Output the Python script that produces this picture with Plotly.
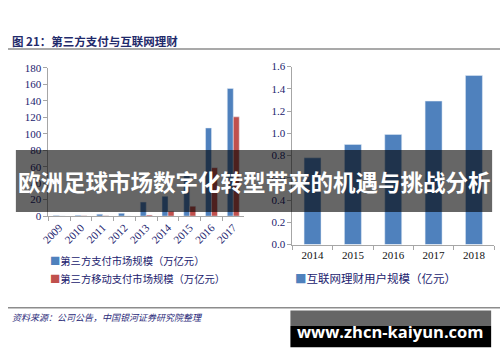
import plotly.graph_objects as go

# ---- data ----
years_left = ['2009', '2010', '2011', '2012', '2013', '2014', '2015', '2016', '2017']
pay_scale = [0.8, 0.9, 2.3, 3.5, 17.0, 24.0, 49.5, 107.0, 155.0]
mobile_scale = [0.2, 0.3, 0.3, 0.2, 1.2, 6.0, 12.0, 58.8, 120.5]
years_right = ['2014', '2015', '2016', '2017', '2018']
user_scale = [0.78, 0.90, 0.99, 1.29, 1.52]

W, H = 500, 362
def px(x): return x / W
def py(y): return 1 - y / H

BLUE = '#4F81BD'
RED = '#C0504D'
NAVY = '#22226E'
serif = 'Liberation Serif'
cjk = 'Noto Sans CJK SC'

fig = go.Figure()
fig.add_trace(go.Bar(x=years_left, y=pay_scale, marker_color=BLUE, xaxis='x', yaxis='y', showlegend=False))
fig.add_trace(go.Bar(x=years_left, y=mobile_scale, marker_color=RED, xaxis='x', yaxis='y', showlegend=False))
fig.add_trace(go.Bar(x=years_right, y=user_scale, marker_color=BLUE, xaxis='x2', yaxis='y2', showlegend=False, width=0.42))

axis_common = dict(showline=True, linecolor='#A6A6A6', linewidth=1, ticks='outside', ticklen=4,
                   tickcolor='#A6A6A6', showgrid=False, zeroline=False)

fig.update_layout(
    width=W, height=H, margin=dict(l=0, r=0, t=0, b=0),
    paper_bgcolor='white', plot_bgcolor='white',
    barmode='group', bargap=0.45, bargroupgap=0,
    xaxis=dict(domain=[px(41), px(240)], anchor='y', type='category', tickson='boundaries',
               tickangle=-45, tickfont=dict(family=serif, size=11, color=NAVY), **axis_common),
    yaxis=dict(domain=[py(217.3), py(64)], anchor='x', range=[0, 180], dtick=20,
               tickfont=dict(family=serif, size=11, color=NAVY), **axis_common),
    xaxis2=dict(domain=[px(289), px(494)], anchor='y2', type='category', tickson='boundaries',
                tickfont=dict(family=serif, size=11, color='#111111'), **axis_common),
    yaxis2=dict(domain=[py(246.7), py(62.7)], anchor='x2', range=[0, 1.6], dtick=0.2, tickformat='.1f',
                tickfont=dict(family=serif, size=11, color=NAVY), **axis_common),
)

shapes = [
    dict(type='line', xref='paper', yref='paper', x0=0, x1=1, y0=py(44.5), y1=py(44.5),
         line=dict(color='#8C8C8C', width=1.5)),
    dict(type='line', xref='paper', yref='paper', x0=0, x1=1, y0=py(312), y1=py(312),
         line=dict(color='#8C8C8C', width=1.5)),
    # overlay band
    dict(type='rect', xref='paper', yref='paper', x0=px(8), x1=px(492), y0=py(213), y1=py(149),
         fillcolor='rgba(0,0,0,0.6)', line=dict(width=0), layer='above'),
    # watermark box
    dict(type='rect', xref='paper', yref='paper', x0=px(287), x1=px(491), y0=py(331), y1=py(315),
         fillcolor='#666666', line=dict(width=0), layer='above'),
    dict(type='rect', xref='paper', yref='paper', x0=px(287), x1=px(491), y0=py(353), y1=py(331),
         fillcolor='#000000', line=dict(width=0), layer='above'),
]
fig.update_layout(shapes=shapes)

def ann(x, y, text, size, color, family=cjk, xanchor='left', bold=False):
    if bold:
        text = '<b>' + text + '</b>'
    fig.add_annotation(xref='paper', yref='paper', x=px(x), y=py(y), text=text, showarrow=False,
                       xanchor=xanchor, yanchor='middle', font=dict(family=family, size=size, color=color))

ann(2, 36, '图 21：第三方支付与互联网理财', 11.5, '#1F2A6B', bold=True)
ann(2, 322, '<i>资料来源：公司公告，中国银河证券研究院整理</i>', 9, '#2B2B7A')
ann(41, 263, '<span style="color:%s">■</span>第三方支付市场规模（万亿元）' % BLUE, 10.3, NAVY)
ann(41, 282, '<span style="color:%s">■</span>第三方移动支付市场规模（万亿元）' % RED, 10.3, NAVY)
ann(290, 281.5, '<span style="color:%s">■</span>互联网理财用户规模（亿元）' % BLUE, 11.5, NAVY)
ann(250, 181, '欧洲足球市场数字化转型带来的机遇与挑战分析', 22.5, 'white', xanchor='center', bold=True)
ann(389, 337, 'www.zhcn-kaiyun.com', 16.5, 'white', family='Open Sans', xanchor='center', bold=True)

fig.write_html('out.html', config={'displayModeBar': False},
               post_script="document.body.style.margin='0px';")
